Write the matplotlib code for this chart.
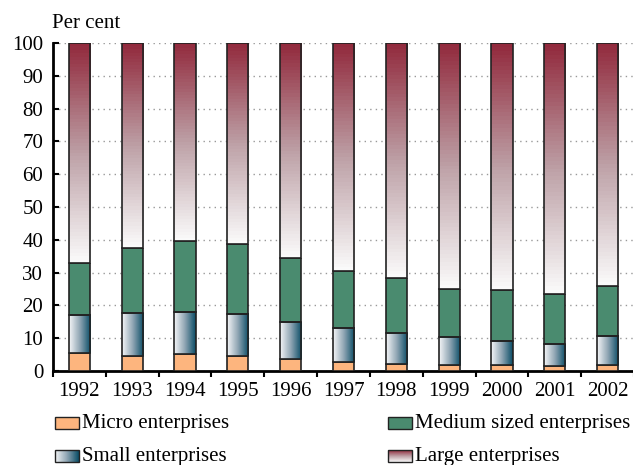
import numpy as np
import matplotlib
matplotlib.use("Agg")
import matplotlib.pyplot as plt
from matplotlib.colors import LinearSegmentedColormap
from matplotlib.patches import Rectangle

years = ["1992", "1993", "1994", "1995", "1996", "1997",
         "1998", "1999", "2000", "2001", "2002"]
micro = [5.4, 4.7, 5.2, 4.5, 3.7, 2.8, 2.2, 1.8, 1.7, 1.6, 1.7]
small = [11.6, 13.1, 12.8, 12.9, 11.2, 10.4, 9.3, 8.7, 7.4, 6.7, 9.0]
medium = [16.0, 19.7, 21.6, 21.3, 19.6, 17.3, 16.8, 14.4, 15.6, 15.3, 15.2]
large = [100 - a - b - c for a, b, c in zip(micro, small, medium)]

labels = ["Micro enterprises", "Small enterprises",
          "Medium sized enterprises", "Large enterprises"]

micro_col = "#FDB57E"
medium_col = "#4A8B6F"
small_cmap = LinearSegmentedColormap.from_list("small", ["#F4F5F7", "#8FA5B3", "#0A4D66"])
large_cmap = LinearSegmentedColormap.from_list("large", ["#FAFAFA", "#BDA0A6", "#922A3D"])

plt.rcParams['font.family'] = ['Liberation Serif', 'DejaVu Serif']
plt.rcParams['font.size'] = 15

W, H = 633, 465
fig = plt.figure(figsize=(W / 100, H / 100), dpi=100)
ax = fig.add_axes([53 / W, (H - 371) / H, (634 - 53) / W, (371 - 43) / H])

x = np.arange(len(years))
bw = 0.40
edge = "#222222"
hgrad = np.linspace(0, 1, 64).reshape(1, -1)
vgrad = np.linspace(0, 1, 64).reshape(-1, 1)

for i in x:
    b0 = 0
    ax.bar(i, micro[i], bw, bottom=b0, color=micro_col, edgecolor=edge, lw=1.2, zorder=3)
    b0 += micro[i]
    ax.imshow(hgrad, cmap=small_cmap, aspect="auto", origin="lower", zorder=3,
              extent=(i - bw / 2, i + bw / 2, b0, b0 + small[i]))
    ax.bar(i, small[i], bw, bottom=b0, fill=False, edgecolor=edge, lw=1.2, zorder=4)
    b0 += small[i]
    ax.bar(i, medium[i], bw, bottom=b0, color=medium_col, edgecolor=edge, lw=1.2, zorder=3)
    b0 += medium[i]
    ax.imshow(vgrad, cmap=large_cmap, aspect="auto", origin="lower", zorder=3,
              extent=(i - bw / 2, i + bw / 2, b0, b0 + large[i]))
    ax.bar(i, large[i], bw, bottom=b0, fill=False, edgecolor=edge, lw=1.2, zorder=4)

ax.set_xlim(-0.5, len(years) - 0.5)
ax.set_ylim(0, 100)
ax.set_yticks(np.arange(0, 101, 10))
ax.yaxis.grid(True, color="#999999", linestyle=(0, (1, 3)), lw=1.0, zorder=0)
ax.set_xticks(np.arange(len(years) + 1) - 0.5)
ax.set_xticklabels([])
ax.set_xticks(x, minor=True)
ax.set_xticklabels(years, minor=True)
ax.tick_params(axis="x", which="major", direction="out", length=4, width=1.5)
ax.tick_params(axis="x", which="minor", length=0, pad=8)
ax.tick_params(axis="y", direction="in", length=4, width=1.5, pad=7)
for s in ["top", "right"]:
    ax.spines[s].set_visible(False)
for s in ["left", "bottom"]:
    ax.spines[s].set_linewidth(2)
ax.set_axisbelow(True)

fig.text(52 / W, (H - 23) / H, "Per cent", ha="left", va="center")

# legend drawn in pixel coordinates
lax = fig.add_axes([0, 0, 1, 70 / H])
lax.axis("off")
entries = [(55, 423, labels[0], "solid", micro_col),
           (55, 456, labels[1], "h", small_cmap),
           (388, 423, labels[2], "solid", medium_col),
           (388, 456, labels[3], "v", large_cmap)]
for px, py, lab, kind, c in entries:
    x0, x1, y0, y1 = px, px + 24, py - 6, py + 6
    if kind == "solid":
        lax.add_patch(Rectangle((x0, y0), 24, 12, facecolor=c, edgecolor=edge, lw=1))
    else:
        g = hgrad if kind == "h" else vgrad[::-1]
        lax.imshow(g, cmap=c, aspect="auto", extent=(x0, x1, y1, y0), origin="upper")
        lax.add_patch(Rectangle((x0, y0), 24, 12, fill=False, edgecolor=edge, lw=1))
    lax.text(px + 27, py, lab, ha="left", va="center")
lax.set_xlim(0, W)
lax.set_ylim(H, H - 70)

fig.savefig("out.png", dpi=100)
